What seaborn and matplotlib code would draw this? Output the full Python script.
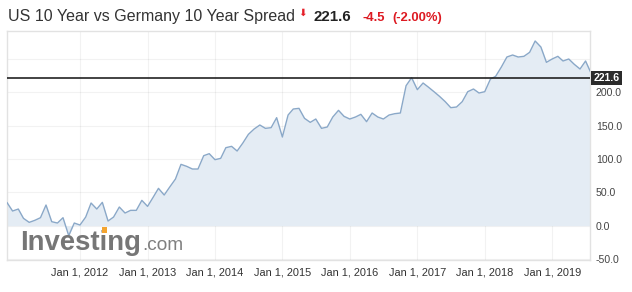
import matplotlib
matplotlib.use("Agg")
import matplotlib.pyplot as plt
import matplotlib.transforms as mtransforms
from matplotlib.patches import Rectangle
import seaborn as sns
import pandas as pd
import numpy as np

# ---------------- data ----------------
start_month = "2010-12-01"
spread = [35, 22, 25, 11, 5, 8, 12, 31, 6, 4, 12, -15, 4, 1, 13, 34, 25, 35, 7, 13,
          28, 19, 23, 23, 38, 29, 43, 56, 46, 58, 70, 92, 89, 85, 85, 105, 108, 99, 101, 117,
          119, 112, 124, 137, 145, 151, 146, 147, 162, 133, 166, 175, 176, 161, 155, 160, 146, 148, 163, 173,
          164, 160, 163, 167, 156, 169, 163, 160, 166, 168, 169, 210, 222, 204, 214, 208, 201, 194, 186, 177,
          178, 186, 201, 205, 199, 201, 220, 224, 238, 253, 256, 253, 254, 260, 277, 268, 245, 250, 254, 247,
          250, 242, 235, 247, 228]
last_value = 221.6
change = "-4.5"
change_pct = "(-2.00%)"
title = "US 10 Year vs Germany 10 Year Spread"
tick_years = [2012, 2013, 2014, 2015, 2016, 2017, 2018, 2019]
y_ticks = [-50, 0, 50, 100, 150, 200, 250]
y_labelled = [-50, 0, 50, 100, 150, 200]

dates = pd.date_range(start_month, periods=len(spread), freq="MS")
df = pd.DataFrame({"date": dates, "spread": spread})

# ---------------- style ----------------
sns.set_theme(style="white")
plt.rcParams["font.family"] = ["Liberation Sans", "DejaVu Sans"]

W, H = 632, 292
fig = plt.figure(figsize=(W / 100, H / 100), dpi=100)
ax = fig.add_axes([6.5 / W, 1 - 259.7 / H, 583.5 / W, (259.7 - 31) / H])

line_c = "#8aa8c8"
fill_c = "#e4ecf4"

sns.lineplot(data=df, x="date", y="spread", ax=ax, color=line_c, lw=1.0, zorder=3)
ax.fill_between(df["date"], df["spread"], 0, color=fill_c, lw=0, zorder=2)

ax.set_xlim(pd.Timestamp("2010-11-29"), pd.Timestamp("2019-07-25"))
ax.set_ylim(-51, 292)

# grid / ticks
ax.set_xticks([pd.Timestamp(f"{y}-01-01") for y in tick_years])
ax.set_xticklabels([f"Jan 1, {y}" for y in tick_years], fontsize=7.9, color="#333333")
ax.set_yticks(y_ticks)
ax.set_yticklabels([f"{v:.1f}" if v in y_labelled else "" for v in y_ticks],
                   fontsize=7.6, color="#444444")
ax.yaxis.tick_right()
ax.tick_params(axis="both", length=0)
ax.tick_params(axis="y", pad=4.3)
ax.tick_params(axis="x", pad=5.8)
ax.grid(True, color="#000000", alpha=0.05, lw=0.8)
for gl in ax.get_xgridlines() + ax.get_ygridlines():
    gl.set_zorder(2.5)
ax.set_xlabel("")
ax.set_ylabel("")
for s in ax.spines.values():
    s.set_color("#e2e2e2")
    s.set_linewidth(1.0)
    s.set_visible(True)

# current value line + label
ax.axhline(last_value, color="#222222", lw=1.2, zorder=4)
trans = mtransforms.blended_transform_factory(ax.transAxes, ax.transData)
ax.text(1.006, last_value, f"{last_value:.1f}", transform=trans, ha="left", va="center",
        fontsize=7.6, fontweight="bold", color="white", zorder=6, clip_on=False,
        bbox=dict(boxstyle="square,pad=0.22", fc="#2b2b2b", ec="none"))

# header
fig.text(8 / W, 1 - 21 / H, title, fontsize=11.5, color="#333333", va="baseline", ha="left")
fig.text(298.5 / W, 1 - 16 / H, "\u2b07", fontsize=7.5, color="#e5202a", va="baseline",
         ha="left", family=["DejaVu Sans"])
fig.text(313 / W, 1 - 21 / H, f"{last_value:.1f}", fontsize=10.8, fontweight="bold",
         color="#222222", va="baseline", ha="left")
fig.text(362 / W, 1 - 21 / H, change, fontsize=9.4, fontweight="bold",
         color="#dd1a22", va="baseline", ha="left")
fig.text(392 / W, 1 - 21 / H, change_pct, fontsize=9.4, fontweight="bold",
         color="#dd1a22", va="baseline", ha="left")

# watermark logo
fig.text(20.5 / W, 1 - 250 / H, "Investing", fontsize=19.8, fontweight="bold",
         color="#767676", va="baseline", ha="left", zorder=10)
fig.text(142 / W, 1 - 250 / H, ".com", fontsize=13.7, color="#7f7f7f",
         va="baseline", ha="left", zorder=10)
fig.add_artist(Rectangle((101.5 / W, 1 - 232.5 / H), 5.5 / W, 5.5 / H, transform=fig.transFigure,
                         fc="#f4a531", ec="none", zorder=11))

fig.savefig("out.png", dpi=100)
